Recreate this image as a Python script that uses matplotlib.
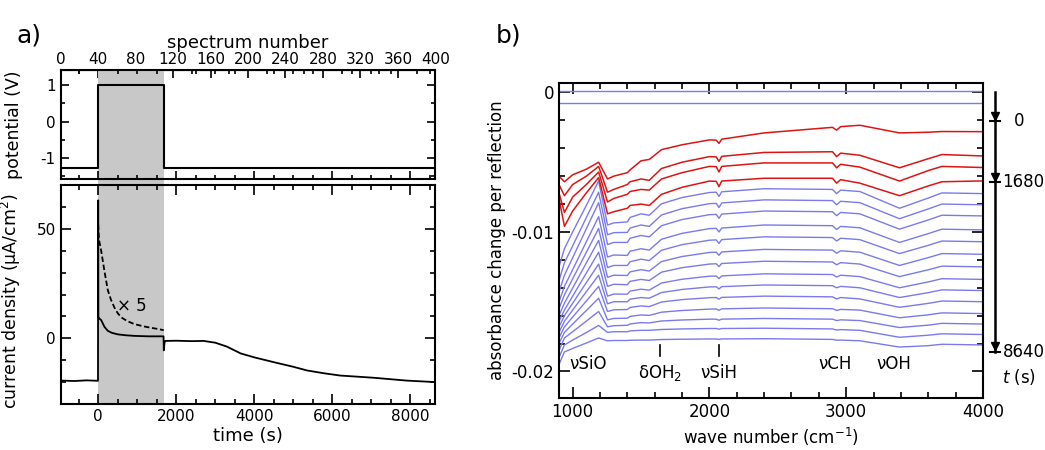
#!/usr/bin/env python3
import matplotlib
matplotlib.use("Agg")
import matplotlib.pyplot as plt
import matplotlib.transforms as mtransforms
from matplotlib.patches import Rectangle
from matplotlib.ticker import MultipleLocator, FuncFormatter

plt.rcParams['axes.unicode_minus'] = False
plt.rcParams['font.family'] = ['DejaVu Sans']

# ---------------- panel a: potential and current vs time ----------------
pot_t = [-960, 0, 0, 1680, 1680, 8640]
pot_v = [-1.27, -1.27, 1.0, 1.0, -1.27, -1.27]

cur_t = [-960, -600, -300, -5, 0, 5, 30, 77, 162, 247, 350, 503, 700, 928, 1300,
         1675, 1682, 1700, 1720, 2000, 2400, 2700, 3000, 3300, 3650, 4000, 4500,
         5000, 5355, 5800, 6200, 7050, 7900, 8640]
cur_j = [-19.3, -19.5, -19.2, -19.4, 63.0, 9.8, 9.0, 8.3, 5.2, 3.4, 2.5, 1.8, 1.4, 1.1, 0.9,
         0.9, -5.5, -2.0, -1.2, -1.1, -1.3, -1.2, -2.0, -3.8, -6.9, -8.7, -10.9,
         -13.0, -14.7, -16.0, -17.0, -18.0, -19.3, -20.0]

x5_t = [0, 20, 77, 162, 247, 330, 417, 500, 588, 750, 928, 1150, 1354, 1550, 1680]
x5_j = [52.0, 45.0, 40.0, 30.5, 22.0, 17.5, 14.0, 11.5, 9.6, 7.8, 6.5, 5.5, 4.8, 4.2, 3.7]

pulse = (0, 1680)

# ---------------- panel b: IR spectra (units of 1e-3) ----------------
wn = [900, 940, 1000, 1100, 1190, 1255, 1300, 1400, 1420, 1500, 1560, 1650, 1800,
      2000, 2050, 2070, 2090, 2400, 2900, 2930, 2960, 3100, 3390, 3600, 3700, 4000]

red_spectra = [
    [-6.0, -6.4, -5.9, -5.5, -5.0, -6.2, -6.0, -5.75, -5.55, -4.9, -4.8, -4.1, -3.75,
     -3.4, -3.42, -3.65, -3.35, -2.9, -2.5, -2.7, -2.45, -2.35, -2.9, -2.85, -2.8, -2.81],
    [-6.6, -7.4, -6.6, -6.0, -5.3, -7.15, -6.95, -6.6, -6.4, -6.2, -6.3, -5.45, -5.0,
     -4.6, -4.62, -4.95, -4.58, -4.3, -4.25, -4.6, -4.35, -4.5, -5.4, -4.75, -4.45, -4.55],
    [-7.2, -8.6, -7.5, -6.6, -5.7, -7.85, -7.6, -7.3, -7.1, -6.95, -7.0, -6.2, -5.75,
     -5.3, -5.32, -5.7, -5.3, -5.05, -5.05, -5.4, -5.15, -5.35, -6.35, -5.6, -5.3, -5.38],
    [-7.6, -9.6, -8.5, -7.2, -6.1, -8.7, -8.55, -8.3, -8.1, -8.0, -8.1, -7.3, -6.8,
     -6.35, -6.37, -6.75, -6.35, -6.15, -6.15, -6.5, -6.25, -6.5, -7.4, -6.7, -6.4, -6.34],
]

blue_spectra = [
    [-12.5, -11.2, -10.0, -8.1, -6.35, -9.5, -9.35, -9.28, -8.96, -8.7, -8.8, -7.98, -7.53,
     -7.17, -7.15, -7.45, -7.12, -6.9, -6.95, -7.25, -7.0, -7.1, -8.3, -7.57, -7.2, -7.25],
    [-13.5, -12.2, -11.0, -8.97, -7.15, -10.2, -10.05, -10.03, -9.72, -9.5, -9.6, -8.78, -8.33,
     -7.97, -7.95, -8.25, -7.92, -7.7, -7.75, -8.05, -7.8, -7.9, -9.05, -8.35, -8.0, -8.05],
    [-14.3, -13.1, -11.85, -9.77, -7.9, -10.9, -10.75, -10.75, -10.45, -10.25, -10.35, -9.55, -9.11,
     -8.76, -8.74, -9.02, -8.72, -8.5, -8.55, -8.83, -8.6, -8.7, -9.8, -9.14, -8.8, -8.85],
    [-15.0, -13.9, -12.7, -10.7, -8.9, -11.8, -11.65, -11.68, -11.38, -11.2, -11.3, -10.52, -10.1,
     -9.76, -9.74, -10.0, -9.72, -9.5, -9.55, -9.82, -9.6, -9.7, -10.75, -10.12, -9.8, -9.85],
    [-15.5, -14.5, -13.36, -11.46, -9.75, -12.55, -12.4, -12.4, -12.13, -11.95, -12.05, -11.31, -10.91,
     -10.59, -10.57, -10.82, -10.55, -10.35, -10.4, -10.65, -10.45, -10.55, -11.55, -10.96, -10.65, -10.7],
    [-16.0, -15.1, -14.02, -12.22, -10.6, -13.25, -13.1, -13.12, -12.86, -12.7, -12.8, -12.12, -11.76,
     -11.47, -11.45, -11.67, -11.43, -11.25, -11.3, -11.52, -11.35, -11.45, -12.4, -11.84, -11.55, -11.6],
    [-16.4, -15.6, -14.6, -12.95, -11.45, -13.9, -13.75, -13.78, -13.54, -13.4, -13.48, -12.88, -12.56,
     -12.3, -12.28, -12.48, -12.26, -12.1, -12.15, -12.35, -12.2, -12.3, -13.2, -12.71, -12.45, -12.5],
    [-16.8, -16.0, -15.11, -13.63, -12.3, -14.6, -14.45, -14.46, -14.24, -14.1, -14.17, -13.66, -13.39,
     -13.17, -13.16, -13.34, -13.15, -13.0, -13.05, -13.23, -13.1, -13.2, -14.0, -13.58, -13.35, -13.4],
    [-17.2, -16.4, -15.6, -14.28, -13.1, -15.15, -15.0, -15.0, -14.82, -14.7, -14.75, -14.34, -14.12,
     -13.94, -13.93, -14.08, -13.92, -13.8, -13.85, -14.0, -13.9, -14.0, -14.7, -14.35, -14.15, -14.2],
    [-17.6, -16.8, -16.1, -14.95, -13.9, -15.7, -15.58, -15.56, -15.41, -15.3, -15.35, -15.02, -14.85,
     -14.71, -14.7, -14.82, -14.69, -14.6, -14.65, -14.8, -14.7, -14.8, -15.4, -15.12, -14.95, -15.0],
    [-18.0, -17.2, -16.6, -15.63, -14.75, -16.3, -16.2, -16.18, -16.05, -15.95, -15.98, -15.75, -15.63,
     -15.53, -15.52, -15.62, -15.51, -15.45, -15.5, -15.62, -15.55, -15.6, -16.15, -15.94, -15.8, -15.85],
    [-18.5, -17.6, -17.15, -16.39, -15.7, -16.8, -16.72, -16.69, -16.59, -16.5, -16.52, -16.38, -16.31,
     -16.25, -16.25, -16.33, -16.25, -16.2, -16.25, -16.35, -16.3, -16.35, -16.85, -16.68, -16.55, -16.6],
    [-19.0, -18.1, -17.75, -17.21, -16.7, -17.2, -17.15, -17.15, -17.09, -17.05, -17.05, -16.99, -16.95,
     -16.92, -16.92, -16.97, -16.92, -16.9, -16.95, -17.03, -17.0, -17.05, -17.55, -17.4, -17.3, -17.35],
    [-19.5, -18.6, -18.35, -17.96, -17.6, -17.8, -17.78, -17.78, -17.76, -17.75, -17.75, -17.71, -17.69,
     -17.67, -17.67, -17.7, -17.67, -17.65, -17.7, -17.76, -17.75, -17.8, -18.25, -18.15, -18.05, -18.1],
]

ref_wn = [900, 4000]
ref_spectra = [[0.07, 0.07], [-0.75, -0.75]]

band_labels = ['νSiO', 'δOH$_2$', 'νSiH', 'νCH', 'νOH']
band_wn = [1110, 1641, 2070, 2917, 3348]

t_marks = ['0', '1680', '8640']
t_mark_y = [-2.07, -6.43, -18.57]

RED = '#dc1414'
BLUE = '#7a7aee'
GRAY = '#c8c8c8'


def style_axis(ax, major_len=7, minor_len=3.5):
    for s in ax.spines.values():
        s.set_linewidth(1.5)
    ax.tick_params(which='both', direction='in', top=True, right=True, width=1.2)
    ax.tick_params(which='major', length=major_len)
    ax.tick_params(which='minor', length=minor_len)


fig = plt.figure(figsize=(10.45, 4.5), dpi=100)

# potential
ax_p = fig.add_axes([0.0581, 0.6022, 0.3585, 0.2422])
ax_p.axvspan(*pulse, color=GRAY, lw=0)
ax_p.plot(pot_t, pot_v, color='k', lw=1.5)
ax_p.set_xlim(-960, 8640)
ax_p.set_ylim(-1.57, 1.41)
ax_p.set_yticks([-1, 0, 1])
ax_p.yaxis.set_minor_locator(MultipleLocator(0.5))
ax_p.xaxis.set_major_locator(MultipleLocator(2000))
ax_p.xaxis.set_minor_locator(MultipleLocator(500))
ax_p.tick_params(labelbottom=False)
style_axis(ax_p, 6, 3)
ax_p.tick_params(top=False, labelsize=11)
ax_p.set_ylabel('potential (V)', fontsize=12.5)
ax_p.yaxis.set_label_coords(-0.1, 0.5)

sec = ax_p.secondary_xaxis('top', functions=(lambda t: (t + 960) / 24.0,
                                              lambda n: n * 24.0 - 960))
sec.xaxis.set_major_locator(MultipleLocator(40))
sec.xaxis.set_minor_locator(MultipleLocator(20))
sec.tick_params(which='both', direction='in', labelsize=11, width=1.2, pad=2)
sec.tick_params(which='major', length=6)
sec.tick_params(which='minor', length=3)
sec.set_xlabel('spectrum number', fontsize=13, labelpad=3)

# current
ax_c = fig.add_axes([0.0581, 0.1022, 0.3585, 0.4867])
ax_c.axvspan(*pulse, color=GRAY, lw=0)
ax_c.plot(cur_t, cur_j, color='k', lw=1.3)
ax_c.plot(x5_t, x5_j, color='k', lw=1.3, ls=(0, (3, 1.5)))
ax_c.text(480, 14.8, '× 5', fontsize=12, va='center', ha='left')
ax_c.set_xlim(-960, 8640)
ax_c.set_ylim(-30, 70)
ax_c.yaxis.set_major_locator(MultipleLocator(50))
ax_c.yaxis.set_minor_locator(MultipleLocator(10))
ax_c.xaxis.set_major_locator(MultipleLocator(2000))
ax_c.xaxis.set_minor_locator(MultipleLocator(500))
style_axis(ax_c, 7, 3.5)
ax_c.tick_params(labelsize=11)
ax_c.set_xticks([0, 2000, 4000, 6000, 8000])
ax_c.set_xlabel('time (s)', fontsize=13, labelpad=2)
ax_c.set_ylabel('current density (μA/cm$^2$)', fontsize=12.5)
ax_c.yaxis.set_label_coords(-0.1, 0.47)

# grey pulse band also fills the gap between the two panels
gap = mtransforms.blended_transform_factory(ax_c.transData, fig.transFigure)
fig.add_artist(Rectangle((pulse[0], 0.5889), pulse[1] - pulse[0], 0.0133,
                         transform=gap, color=GRAY, lw=0, zorder=0))

# spectra
ax_b = fig.add_axes([0.5349, 0.1156, 0.4057, 0.7])
for sp in ref_spectra:
    ax_b.plot(ref_wn, [v * 1e-3 for v in sp], color=BLUE, lw=1.0)
for sp in blue_spectra:
    ax_b.plot(wn, [v * 1e-3 for v in sp], color=BLUE, lw=1.0)
for sp in red_spectra:
    ax_b.plot(wn, [v * 1e-3 for v in sp], color=RED, lw=1.1)
ax_b.set_xlim(900, 4000)
ax_b.set_ylim(-0.0219, 0.00068)
ax_b.xaxis.set_major_locator(MultipleLocator(1000))
ax_b.xaxis.set_minor_locator(MultipleLocator(200))
ax_b.yaxis.set_major_locator(MultipleLocator(0.01))
ax_b.yaxis.set_minor_locator(MultipleLocator(0.002))
ax_b.yaxis.set_major_formatter(FuncFormatter(lambda v, p: '0' if abs(v) < 1e-9 else '%g' % v))
style_axis(ax_b, 8, 4)
ax_b.tick_params(labelsize=12)
ax_b.set_xlabel('wave number (cm$^{-1}$)', fontsize=12)
ax_b.set_ylabel('absorbance change per reflection', fontsize=12)

for lab, w in zip(band_labels, band_wn):
    y = -0.0195 if lab in ('νSiO', 'νCH', 'νOH') else -0.0201
    ax_b.text(w, y, lab, fontsize=12, ha='center', va='center')
for w in (1641, 2070):
    ax_b.plot([w, w], [-0.0181, -0.0189], color='k', lw=1.2)

trans = mtransforms.blended_transform_factory(ax_b.transAxes, ax_b.transData)
xa = 1.028
ax_b.plot([xa, xa], [0, -0.0186], color='k', lw=1.8, transform=trans, clip_on=False)
for lab, y in zip(t_marks, t_mark_y):
    y = y * 1e-3
    ax_b.plot([xa - 0.012, xa + 0.012], [y, y], color='k', lw=1.5,
              transform=trans, clip_on=False)
    ax_b.plot([xa], [y + 0.0004], marker='v', ms=6, color='k',
              transform=trans, clip_on=False)
    ax_b.text(xa + (0.045 if lab == '0' else 0.018), y, lab, fontsize=12,
              ha='left', va='center', transform=trans)
ax_b.text(xa + 0.058, -0.0204, '$t$ (s)', fontsize=12, ha='center', va='center',
          transform=trans)

fig.text(0.016, 0.92, 'a)', fontsize=18, va='center')
fig.text(0.474, 0.92, 'b)', fontsize=18, va='center')

fig.savefig('out.png', dpi=100)
